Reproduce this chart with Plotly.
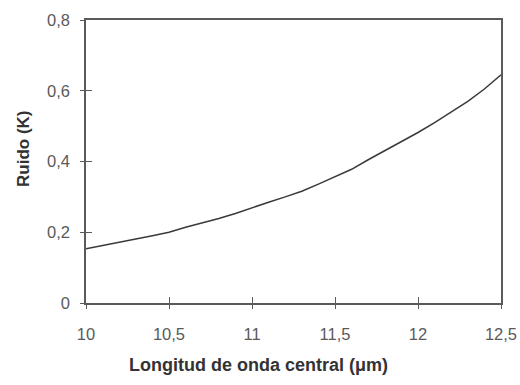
import plotly.graph_objects as go

# Data
wavelength = [10.0, 10.1, 10.2, 10.3, 10.4, 10.5, 10.6, 10.7, 10.8, 10.9,
              11.0, 11.1, 11.2, 11.3, 11.4, 11.5, 11.6, 11.7, 11.8, 11.9,
              12.0, 12.1, 12.2, 12.3, 12.4, 12.5]
noise = [0.153, 0.163, 0.172, 0.181, 0.190, 0.200, 0.214, 0.226, 0.239, 0.253,
         0.270, 0.285, 0.300, 0.316, 0.336, 0.356, 0.378, 0.405, 0.430, 0.455,
         0.482, 0.510, 0.540, 0.570, 0.605, 0.645]

x_tickvals = [10, 10.5, 11, 11.5, 12, 12.5]
x_ticktext = ["10", "10,5", "11", "11,5", "12", "12,5"]
y_tickvals = [0, 0.2, 0.4, 0.6, 0.8]
y_ticktext = ["0", "0,2", "0,4", "0,6", "0,8"]

x_title = "Longitud de onda central (\u03bcm)"
y_title = "Ruido (K)"

axis_col = "#5a5a5a"
font_family = "Liberation Sans, Arial, sans-serif"

fig = go.Figure()
fig.add_trace(go.Scatter(x=wavelength, y=noise, mode="lines",
                         line=dict(color="#3a3a3a", width=1.5),
                         showlegend=False, hoverinfo="skip"))
# invisible copy on overlay axes so the outer half of the crossing ticks is drawn
fig.add_trace(go.Scatter(x=wavelength, y=noise, mode="lines", xaxis="x2", yaxis="y2",
                         line=dict(color="rgba(0,0,0,0)", width=0),
                         showlegend=False, hoverinfo="skip"))

common = dict(showgrid=False, zeroline=False, automargin=False)

fig.update_layout(
    width=520, height=385,
    margin=dict(l=86, r=19, t=20, b=82),
    paper_bgcolor="white", plot_bgcolor="white",
    font=dict(family=font_family, color="#555555", size=16),
    xaxis=dict(range=[10, 12.5], tickvals=x_tickvals, ticktext=x_ticktext,
               ticks="inside", ticklen=6, tickwidth=1.3, tickcolor=axis_col,
               showline=True, linecolor=axis_col, linewidth=1.5, mirror=True,
               ticklabelstandoff=15,
               tickfont=dict(size=16.5, color="#5a5a5a"), **common),
    yaxis=dict(range=[0, 0.8], tickvals=y_tickvals, ticktext=y_ticktext,
               ticks="inside", ticklen=6, tickwidth=1.3, tickcolor=axis_col,
               showline=True, linecolor=axis_col, linewidth=1.5, mirror=True,
               ticklabelstandoff=11,
               tickfont=dict(size=16.5, color="#5a5a5a"), **common),
    xaxis2=dict(range=[10, 12.5], tickvals=x_tickvals, overlaying="x",
                ticks="outside", ticklen=5, tickwidth=1.3, tickcolor=axis_col,
                showticklabels=False, showline=False, side="bottom", **common),
    yaxis2=dict(range=[0, 0.8], tickvals=y_tickvals, overlaying="y",
                ticks="outside", ticklen=5, tickwidth=1.3, tickcolor=axis_col,
                showticklabels=False, showline=False, side="left", **common),
    annotations=[
        dict(text="<b>" + x_title + "</b>", xref="paper", yref="paper",
             x=(258 - 86) / (501 - 86), y=-(365 - 303) / (303 - 20),
             xanchor="center", yanchor="middle", showarrow=False,
             font=dict(size=18, color="#333333", family=font_family)),
        dict(text="<b>" + y_title + "</b>", xref="paper", yref="paper",
             x=-(86 - 23) / (501 - 86), y=(303 - 149) / (303 - 20),
             xanchor="center", yanchor="middle", textangle=-90, showarrow=False,
             font=dict(size=17, color="#333333", family=font_family)),
    ],
)

fig.write_html("out.html", config={"displayModeBar": False},
               post_script="document.body.style.margin='0';document.body.style.overflow='hidden';")
